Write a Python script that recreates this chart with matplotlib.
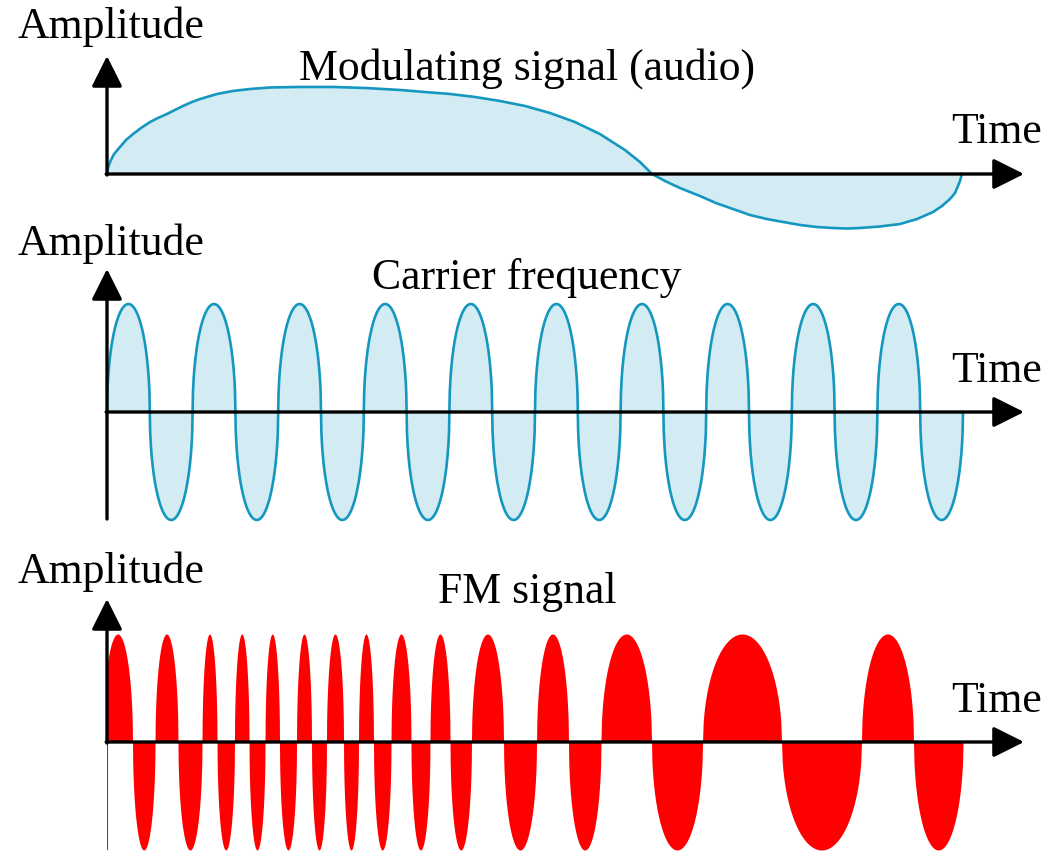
import numpy as np
import matplotlib
matplotlib.use("Agg")
from matplotlib import pyplot as plt

# time in carrier periods (0..10), amplitude relative to carrier peak
mod_t = [0.000, 0.012, 0.035, 0.082, 0.152, 0.222, 0.304, 0.397, 0.502, 0.596,
         0.701, 0.794, 0.888, 0.993, 1.086, 1.285, 1.472, 1.671, 1.904, 2.255,
         2.640, 3.026, 3.423, 3.715, 4.007, 4.299, 4.591, 4.883, 5.175, 5.467,
         5.759, 6.051, 6.227, 6.367, 6.519, 6.694, 6.928, 7.114, 7.313, 7.512,
         7.710, 7.897, 8.096, 8.294, 8.481, 8.645, 8.797, 9.030, 9.264, 9.463,
         9.650, 9.755, 9.848, 9.907, 9.941, 9.965, 9.988]
mod_v = [0.000, 0.056, 0.111, 0.185, 0.250, 0.315, 0.370, 0.426, 0.481, 0.519,
         0.556, 0.593, 0.630, 0.667, 0.694, 0.741, 0.769, 0.787, 0.801, 0.806,
         0.806, 0.796, 0.778, 0.759, 0.741, 0.713, 0.676, 0.630, 0.565, 0.481,
         0.370, 0.222, 0.111, 0.000, -0.065, -0.130, -0.204, -0.269, -0.324, -0.380,
         -0.417, -0.444, -0.472, -0.491, -0.500, -0.505, -0.500, -0.486, -0.463, -0.417,
         -0.352, -0.296, -0.231, -0.176, -0.111, -0.065, 0.000]

carrier_cycles = 10

# zero crossings of the FM signal (half-cycle boundaries), first lobe positive
fm_cross = [-0.05, 0.298, 0.561, 0.829, 1.110, 1.285, 1.489, 1.659, 1.846, 2.015,
            2.214, 2.389, 2.564, 2.763, 2.938, 3.113, 3.318, 3.551, 3.773, 4.007,
            4.258, 4.632, 5.018, 5.391, 5.771, 6.361, 6.957, 7.880, 8.814, 9.422,
            10.0]

titles = ["Modulating signal (audio)", "Carrier frequency", "FM signal"]

W, H = 1051, 854
PX_T = 85.6     # px per time unit
PX_A = 108.0    # px per amplitude unit
X0 = 107        # px of t=0
XR = 1030

BLUE = "#1597bf"
FILL = "#d3ebf3"
RED = "#ff0000"

plt.rcParams['font.family'] = ['Liberation Serif', 'DejaVu Serif']
FS = 31.5

fig = plt.figure(figsize=(W / 100, H / 100), dpi=100)


def panel(top, bottom, axis_y):
    ax = fig.add_axes([X0 / W, 1 - bottom / H, (XR - X0) / W, (bottom - top) / H])
    ax.set_xlim(0, (XR - X0) / PX_T)
    ax.set_ylim((axis_y - bottom) / PX_A, (axis_y - top) / PX_A)
    ax.axis('off')
    return ax


def axes_arrows(ax, axis_y, ytip_px, ybot_px):
    tip_t = (1024 - X0) / PX_T
    tip_a = (axis_y - ytip_px) / PX_A
    bot_a = (axis_y - ybot_px) / PX_A
    style = dict(arrowstyle="-|>,head_length=1.0,head_width=0.5", color="black",
                 lw=2.4, shrinkA=0, shrinkB=0, mutation_scale=19)
    ax.annotate("", xy=(tip_t, 0), xytext=(-0.01, 0), arrowprops=style,
                annotation_clip=False, zorder=5)
    ax.annotate("", xy=(0, tip_a), xytext=(0, bot_a), arrowprops=style,
                annotation_clip=False, zorder=5)


def lobes(cross, n=120):
    # one rounded (elliptic) lobe per half cycle, sign alternating
    ts, ys = [], []
    for k in range(len(cross) - 1):
        a, b = cross[k], cross[k + 1]
        u = np.linspace(0, 1, n)
        ts.append(a + u * (b - a))
        ys.append((1 if k % 2 == 0 else -1) * 2 * np.sqrt(u * (1 - u)))
    t = np.concatenate(ts)
    y = np.concatenate(ys)
    keep = t >= 0
    return t[keep], y[keep]


def ftext(xc, base, s, ha="center"):
    fig.text(xc / W, 1 - base / H, s, ha=ha, va="baseline", fontsize=FS)


# panel 1: modulating signal
ax1 = panel(40, 245, 175)
ax1.fill_between(mod_t, mod_v, 0, color=FILL, lw=0)
ax1.plot(mod_t, mod_v, color=BLUE, lw=1.9)
axes_arrows(ax1, 175, 57, 176)

# panel 2: carrier
ax2 = panel(262, 530, 413)
car_t, car_v = lobes(np.arange(0, carrier_cycles + 0.25, 0.5))
ax2.fill_between(car_t, car_v, 0, color=FILL, lw=0)
ax2.plot(car_t, car_v, color=BLUE, lw=1.9)
axes_arrows(ax2, 413, 270, 520)

# panel 3: FM signal
ax3 = panel(590, 860, 743)
fm_t, fm_v = lobes(fm_cross)
ax3.fill_between(fm_t, fm_v, 0, color=RED, lw=0)
ax3.plot([0.005, 0.005], [0, -0.99], color=RED, lw=1.5)
axes_arrows(ax3, 743, 600, 744)

# labels
for base in (38, 255, 583):
    ftext(111, base, "Amplitude")
for base, s in zip((80, 289, 603), titles):
    ftext(527, base, s)
for base in (143, 382, 712):
    ftext(997, base, "Time")

fig.savefig("out.png", dpi=100)
